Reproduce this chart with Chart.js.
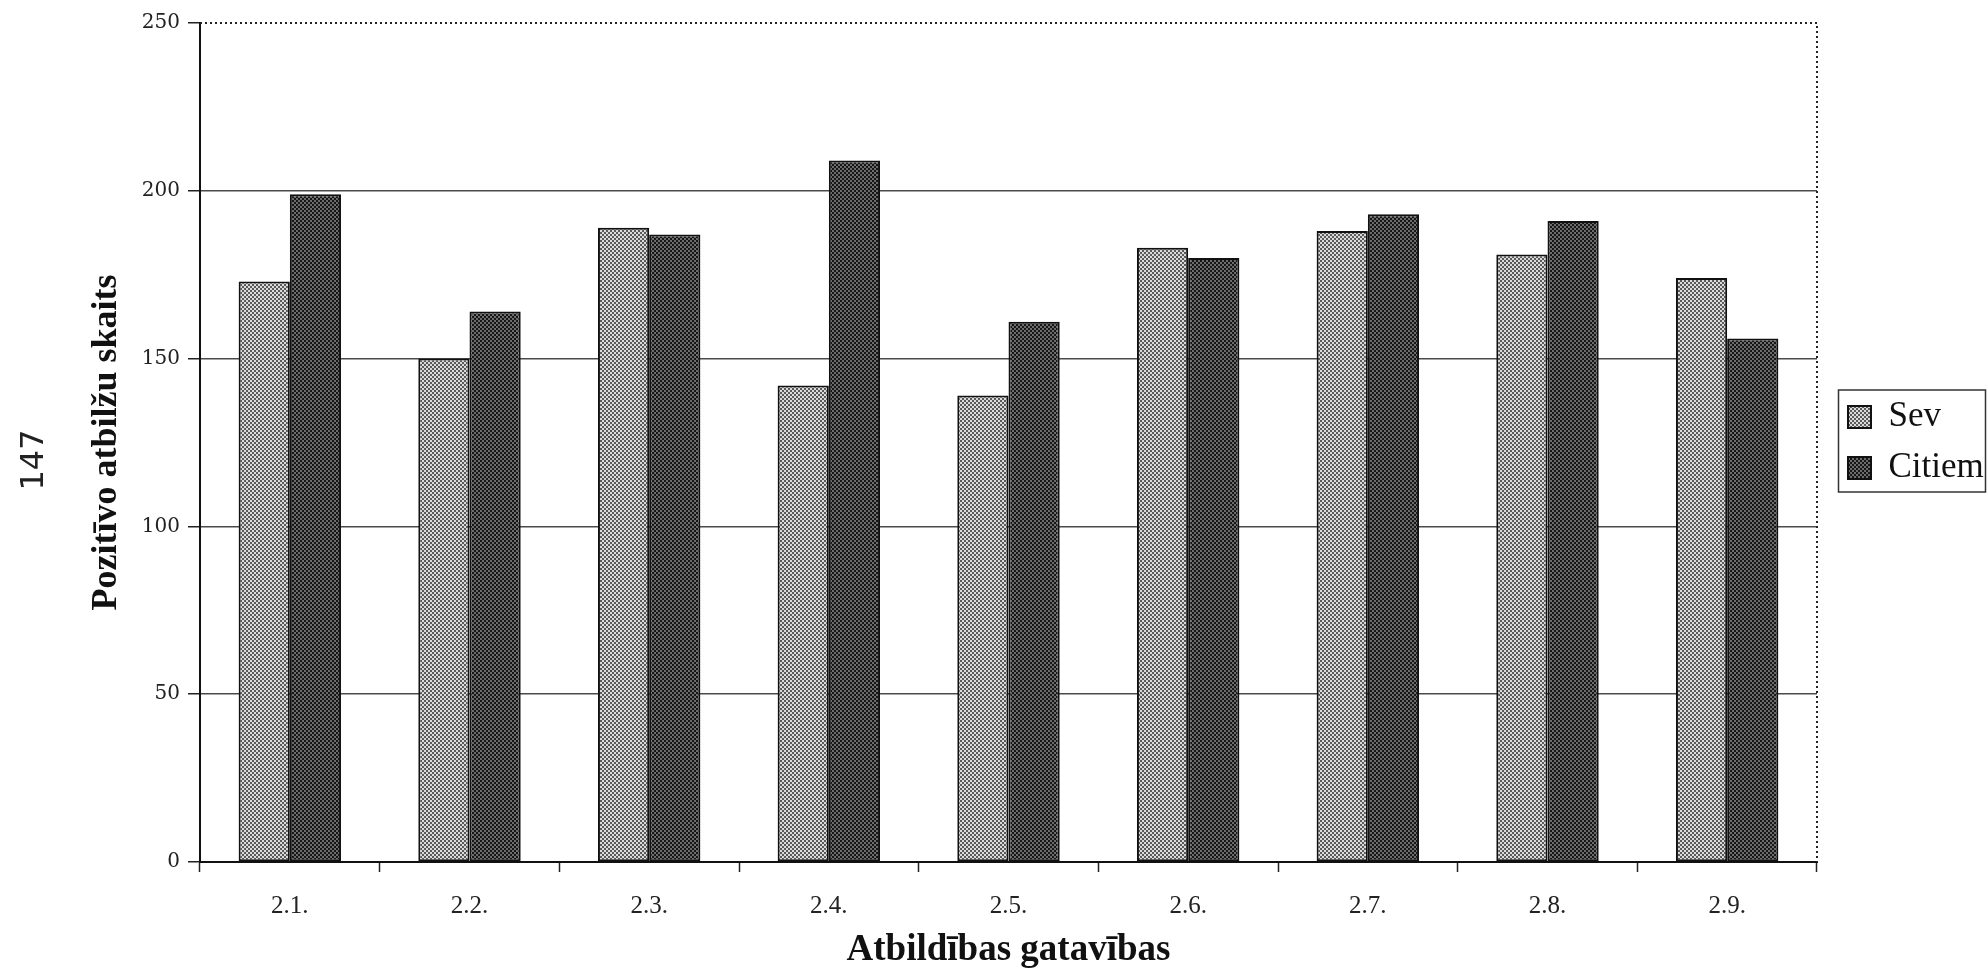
<!DOCTYPE html>
<html>
<head>
<meta charset="utf-8">
<script src="https://cdn.jsdelivr.net/npm/chart.js@4.4.0/dist/chart.umd.min.js"></script>
<style>
  html,body{margin:0;padding:0;background:#fff;}
  #wrap{width:1988px;height:969px;position:relative;}
</style>
</head>
<body>
<div id="wrap"><canvas id="c"></canvas></div>
<script>
// data
const labels=['2.1.','2.2.','2.3.','2.4.','2.5.','2.6.','2.7.','2.8.','2.9.'];
const sev=[173,150,189,142,139,183,188,181,174];
const citiem=[199,164,187,209,161,180,193,191,156];
const yTicks=[0,50,100,150,200,250];

// halftone-ish fills like the printed original
function mkPattern(base,dot,step){
  const c=document.createElement('canvas');c.width=step*2;c.height=step*2;
  const g=c.getContext('2d');
  g.fillStyle=base;g.fillRect(0,0,c.width,c.height);
  g.fillStyle=dot;
  g.fillRect(0,0,step,step);g.fillRect(step,step,step,step);
  return g.createPattern(c,'repeat');
}
const sevFill=mkPattern('#dadada','#5a5a5a',2);
const citFill=mkPattern('#6c6c6c','#161616',2);

const serif="'Liberation Serif', 'Times New Roman', serif";

// dotted top/right edges, box round the legend entries, rotated page number
const extras={
  id:'extras',
  afterDraw(ch){
    const {ctx,chartArea:a}=ch;
    ctx.save();
    ctx.strokeStyle='#222';ctx.lineWidth=2;ctx.setLineDash([2,3]);
    ctx.beginPath();
    ctx.moveTo(a.left,a.top);ctx.lineTo(a.right,a.top);ctx.lineTo(a.right,a.bottom);
    ctx.stroke();
    ctx.setLineDash([]);
    const hb=ch.legend.legendHitBoxes;
    if(hb&&hb.length){
      const top=Math.min(...hb.map(h=>h.top))-10;
      const bot=Math.max(...hb.map(h=>h.top+h.height))+6;
      const left=Math.min(...hb.map(h=>h.left))-10;
      ctx.lineWidth=1.5;ctx.strokeStyle='#333';
      ctx.strokeRect(left+0.5,top+0.5,1985-left,bot-top);
    }
    ctx.translate(35,460);ctx.rotate(-Math.PI/2);
    ctx.fillStyle='#222';ctx.font="32px 'DejaVu Sans', sans-serif";
    ctx.textAlign='center';ctx.textBaseline='middle';
    ctx.fillText('147',0,0);
    ctx.restore();
  }
};

new Chart(document.getElementById('c'),{
  type:'bar',
  data:{labels,datasets:[
    {label:'Sev',data:sev,backgroundColor:sevFill,borderColor:'#111',borderWidth:2,borderSkipped:false},
    {label:'Citiem',data:citiem,backgroundColor:citFill,borderColor:'#111',borderWidth:2,borderSkipped:false},
  ]},
  options:{
    responsive:true,maintainAspectRatio:false,animation:false,
    layout:{padding:{left:0,right:0,top:23,bottom:0}},
    datasets:{bar:{categoryPercentage:0.57,barPercentage:1}},
    plugins:{
      tooltip:{enabled:false},
      legend:{
        position:'right',align:'center',fullSize:false,maxWidth:156,
        labels:{color:'#111',font:{family:serif,size:35},boxWidth:23,boxHeight:22,padding:16}
      }
    },
    scales:{
      x:{
        grid:{display:true,drawOnChartArea:false,offset:true,tickLength:10,tickColor:'#222',tickWidth:1.5},
        border:{display:true,color:'#111',width:2},
        ticks:{color:'#222',font:{family:serif,size:25},padding:19},
        title:{display:true,text:'Atbildības gatavības',color:'#111',font:{family:serif,size:37,weight:'bold',lineHeight:1.0},padding:{top:8,bottom:0}},
        afterFit(s){s.height=107;}
      },
      y:{
        min:0,max:250,
        afterBuildTicks(s){s.ticks=yTicks.map(v=>({value:v}));},
        grid:{color:(c)=>c.tick&&c.tick.value===250?'rgba(0,0,0,0)':'#4a4a4a',lineWidth:1.5,tickLength:12,tickColor:'#222',tickWidth:1.5},
        border:{display:true,color:'#111',width:2},
        ticks:{color:'#222',font:{family:"'DejaVu Serif', serif",size:20},padding:8},
        title:{display:true,text:'Pozitīvo atbilžu skaits',color:'#111',font:{family:serif,size:36,weight:'bold'},padding:{top:85,bottom:0}},
        afterFit(s){s.width=200;}
      },
      // empty right axis: only keeps the gap between the plot and the legend
      y2:{
        position:'right',min:0,max:250,
        grid:{display:false},
        ticks:{display:false},
        border:{display:false},
        afterFit(s){s.width=15;}
      }
    }
  },
  plugins:[extras]
});
</script>
</body>
</html>
